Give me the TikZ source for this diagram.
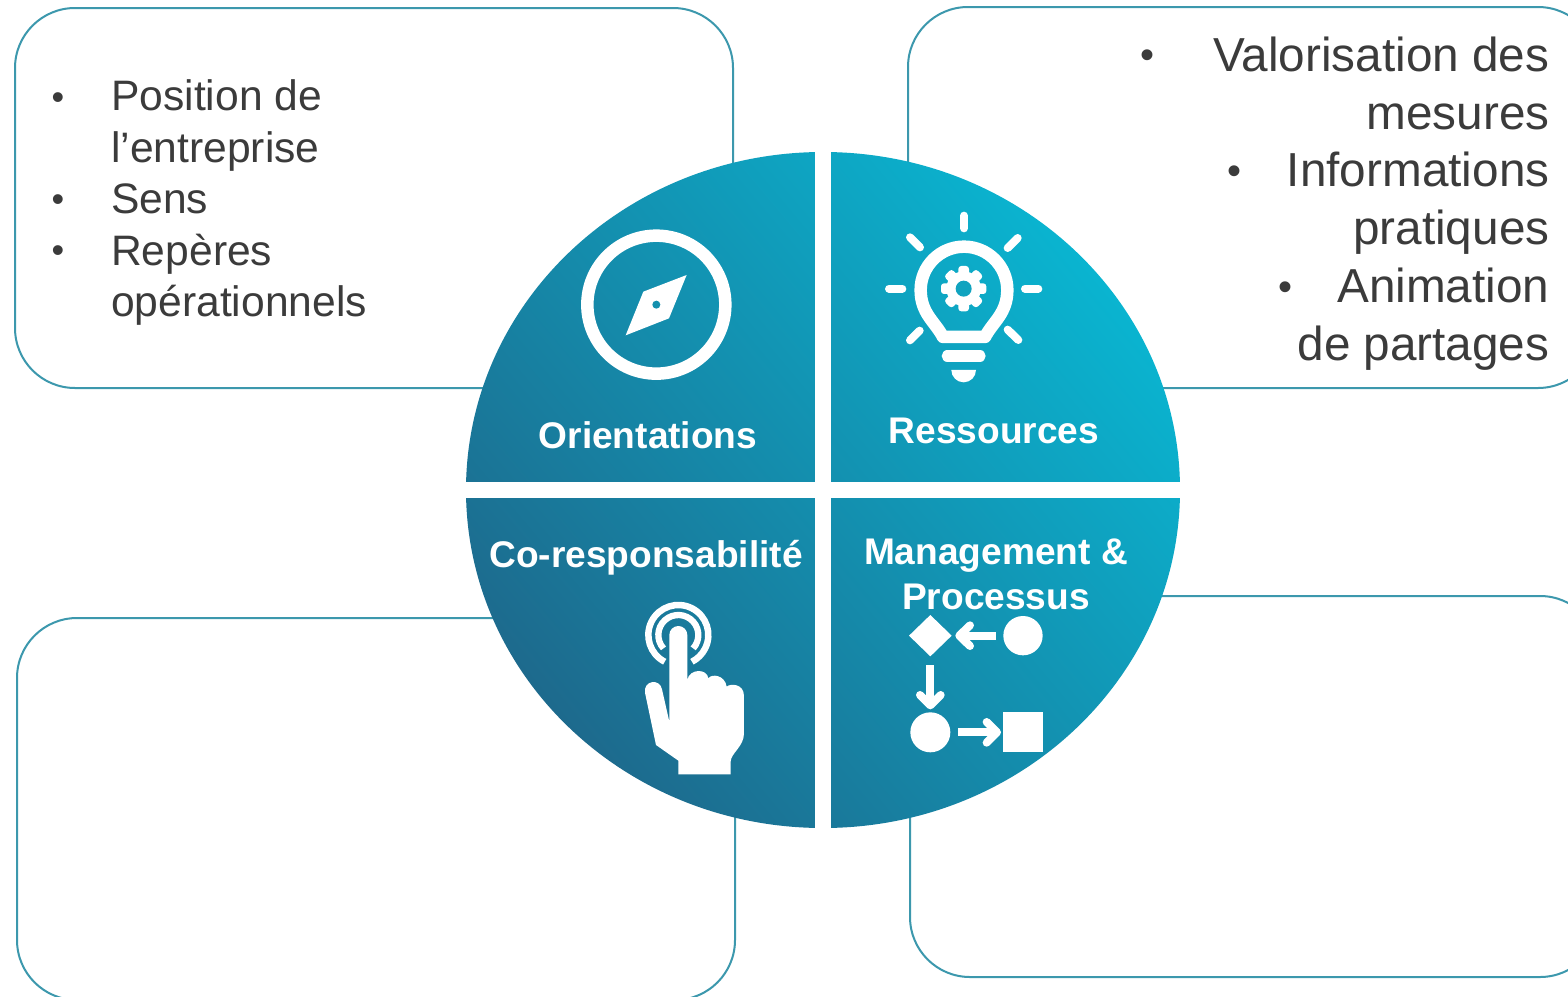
\documentclass[tikz,border=0pt]{standalone}
\usepackage{fontspec}
\setmainfont{Liberation Sans}
\usetikzlibrary{shapes.geometric}
\definecolor{boxline}{HTML}{3C98AD}
\definecolor{txt}{HTML}{3B3B3B}
\definecolor{gdark}{HTML}{1D6A8D}
\definecolor{glight}{HTML}{0AB4D0}
\definecolor{gearhole}{HTML}{10A3BF}
\definecolor{needlehole}{HTML}{1490AE}
\tikzset{
  card/.style={draw=boxline,line width=2pt,fill=white,rounded corners=60pt,rectangle,inner sep=0pt},
  bar/.style={fill=white,rectangle,inner sep=0pt},
  leftline/.style={anchor=base west,inner sep=0pt,text=txt,font=\fontsize{42.6}{50}\selectfont},
  rightline/.style={anchor=base east,inner sep=0pt,text=txt,font=\fontsize{47.7}{58}\selectfont},
  bullL/.style={anchor=base,inner sep=0pt,text=txt,font=\fontsize{36}{50}\selectfont},
  bullR/.style={anchor=base,inner sep=0pt,text=txt,font=\fontsize{40}{58}\selectfont},
  label/.style={anchor=base,inner sep=0pt,text=white,font=\fontsize{37.1}{45}\selectfont\bfseries},
  wline/.style={draw=white,line cap=round,line join=round},
  icon/.style={x=0.3333pt,y=-0.3333pt},
}
\begin{document}
\begin{tikzpicture}[x=1pt,y=-1pt]
\path[use as bounding box,clip] (0,0) rectangle (1568,996);
\fill[white] (0,0) rectangle (1568,996);
% cards
\node[card,minimum width=718pt,minimum height=380pt] (cardTL) at (374,198) {};
\node[card,minimum width=690pt,minimum height=381pt] (cardTR) at (1253,197.5) {};
\node[card,minimum width=718pt,minimum height=382pt] (cardBL) at (376,809) {};
\node[card,minimum width=690pt,minimum height=381pt] (cardBR) at (1255,786.5) {};
% disc
\node[ellipse,minimum width=714pt,minimum height=676pt,inner sep=0pt,bottom color=gdark,top color=glight,shading angle=-50] (disc) at (823,490) {};
\node[bar,minimum width=16pt,minimum height=680pt] (vbar) at (823,490) {};
\node[bar,minimum width=720pt,minimum height=16pt] (hbar) at (823,490) {};
% left list
\node[bullL] (b1) at (58,109) {•};
\node[bullL] (b2) at (58,211) {•};
\node[bullL] (b3) at (58,262) {•};
\node[leftline] (l1) at (111,110.5) {Position de};
\node[leftline] (l2) at (111,162) {l’entreprise};
\node[leftline] (l3) at (111,213.5) {Sens};
\node[leftline] (l4) at (111,265) {Repères};
\node[leftline] (l5) at (111,316) {opérationnels};
% right list
\node[bullR] (r1) at (1147,68) {•};
\node[bullR] (r2) at (1234,184) {•};
\node[bullR] (r3) at (1285,300) {•};
\node[rightline] (t1) at (1549.6,71) {Valorisation des};
\node[rightline] (t2) at (1549.6,129) {mesures};
\node[rightline] (t3) at (1549.6,186.5) {Informations};
\node[rightline] (t4) at (1549.6,244.5) {pratiques};
\node[rightline] (t5) at (1549.6,302) {Animation};
\node[rightline] (t6) at (1549.6,360) {de partages};
% labels
\node[label] (orient) at (648,448) {Orientations};
\node[label] (ress) at (994,443) {Ressources};
\node[label] (cores) at (646,567) {Co-responsabilité};
\node[label] (mgmt) at (996,564) {Management \&};
\node[label] (proc) at (996,609) {Processus};
% compass (coordinates of zoom)
\begin{scope}[shift={(560,210)},icon]
  \draw[white,line width=12.5pt] (289,284) circle[radius=207];
  \fill[white] (380,195) -- (250,245) -- (197,376) -- (327,325) -- cycle;
  \fill[needlehole] (289,284) circle[radius=12];
\end{scope}
% bulb
\begin{scope}[shift={(870,200)},icon]
  \draw[wline,line width=8pt] (282,47) -- (282,85);
  \draw[wline,line width=8pt] (57,266) -- (97,266);
  \draw[wline,line width=8pt] (465,266) -- (505,266);
  \draw[wline,line width=8pt] (120,112) -- (150,142);
  \draw[wline,line width=8pt] (443,114) -- (413,144);
  \draw[wline,line width=8pt] (149,392) -- (120,421);
  \draw[wline,line width=8pt] (413,389) -- (445,420);
  \draw[white,line join=round,line width=12.5pt] (219,411) .. controls (195,365) and (152,340) .. (152,270)
     arc[start angle=180,end angle=360,x radius=130,y radius=130]
     .. controls (412,340) and (369,365) .. (345,411) -- cycle;
  \draw[wline,line width=11.3pt] (232,468) -- (330,468);
  \fill[white] (244,510) -- (318,510) arc[start angle=0,end angle=180,radius=37] -- cycle;
  % gear
  \fill[white] (281,266) circle[radius=52];
  \foreach \a in {0,45,...,315}{
    \fill[white,rounded corners=3pt,rotate around={\a:(281,266)}] (265,266-68) rectangle (297,266-40);
  }
  \fill[gearhole] (281,266) circle[radius=24];
\end{scope}
% hand
\begin{scope}[shift={(630,590)},icon]
  \draw[white,line width=6.5pt] (145,135) ++(117:90) arc[start angle=117,end angle=423,radius=90];
  \draw[white,line width=6.3pt] (145,135) ++(138:60) arc[start angle=138,end angle=402,radius=60];
  \fill[white] (118,395) -- (118,135) arc[start angle=180,end angle=360,radius=27]
    -- (172,270)
    .. controls (178,235) and (232,235) .. (235,265)
    .. controls (245,250) and (285,255) .. (290,290)
    .. controls (300,280) and (342,280) .. (342,318)
    -- (342,430) .. controls (342,470) and (302,490) .. (302,515)
    -- (302,553) -- (145,553) -- (145,512) -- (78,465) -- (45,308)
    .. controls (40,270) and (90,265) .. (96,298) -- cycle;
\end{scope}
% process
\begin{scope}[shift={(890,600)},icon]
  \fill[white] (57,107) -- (121,45) -- (185,107) -- (121,169) -- cycle;
  \fill[white] (399,107) circle[radius=59];
  \draw[white,line width=8pt] (318,107) -- (212,107);
  \draw[wline,line width=8pt] (240,76) -- (208,107) -- (240,138);
  \draw[white,line width=8pt] (121,195) -- (121,310);
  \draw[wline,line width=8pt] (90,285) -- (121,316) -- (152,285);
  \fill[white] (121,397) circle[radius=60];
  \draw[white,line width=8pt] (205,397) -- (318,397);
  \draw[wline,line width=8pt] (290,366) -- (321,397) -- (290,428);
  \fill[white] (339,336) rectangle (459,455);
\end{scope}
\end{tikzpicture}
\end{document}
